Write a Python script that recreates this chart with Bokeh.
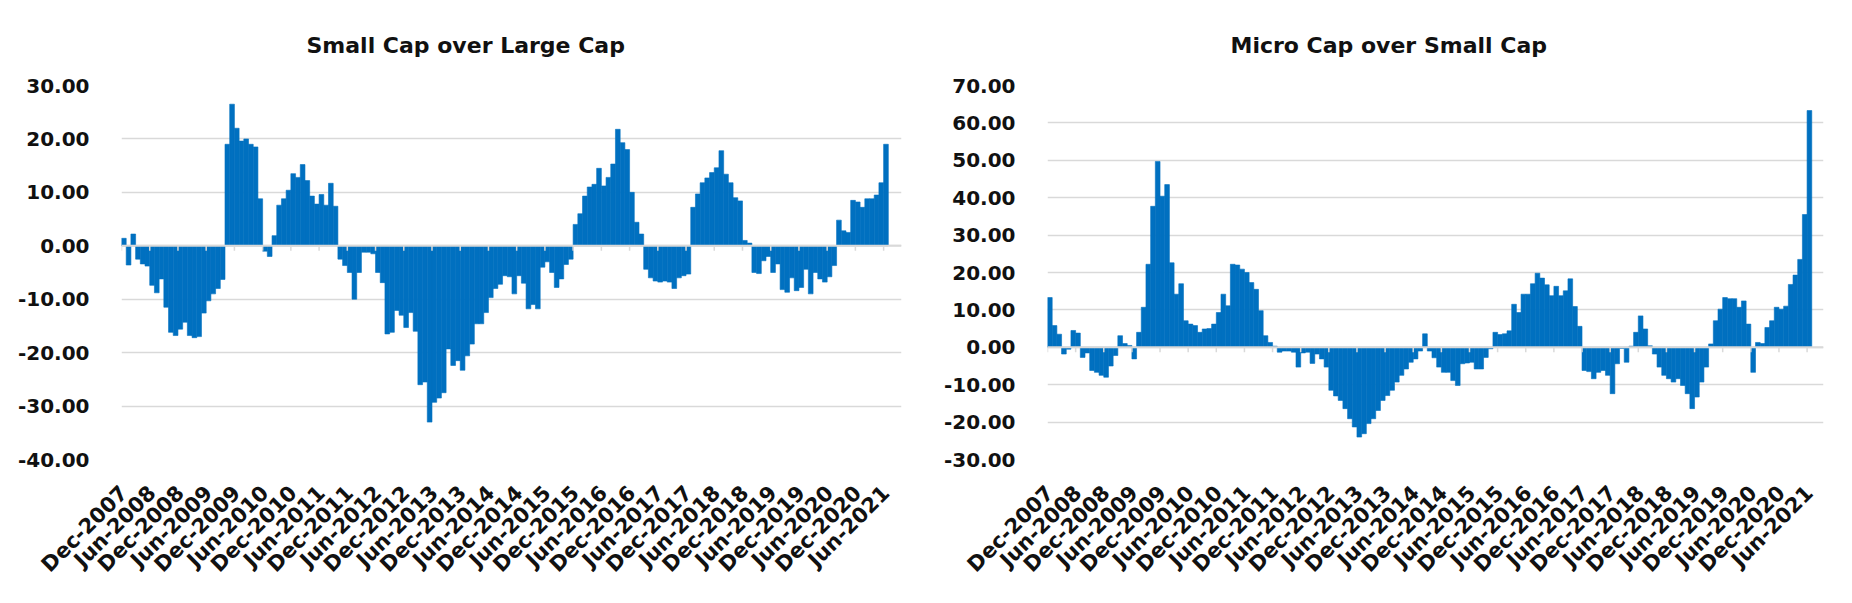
from math import pi

from bokeh.embed import file_html
from bokeh.layouts import row
from bokeh.models import (ColumnDataSource, FixedTicker, NumeralTickFormatter,
                          Range1d, Span)
from bokeh.plotting import figure
from bokeh.resources import INLINE

# Monthly relative performance, Dec-2007 .. Jun-2021 (163 months)
small_over_large = [
    1.4, -3.6, 2.2, -2.5, -3.4, -3.8, -7.4, -8.8, -6.2, -11.5,
    -16.2, -16.8, -15.6, -14.3, -16.8, -17.2, -17.0, -12.6, -10.3, -9.0,
    -8.0, -6.3, 19.0, 26.5, 22.0, 19.6, 20.0, 19.0, 18.5, 8.8,
    -1.0, -2.0, 1.9, 7.6, 8.8, 10.4, 13.5, 12.8, 15.2, 12.2,
    9.3, 7.8, 9.6, 7.6, 11.7, 7.4, -2.5, -3.7, -5.0, -10.0,
    -5.0, -1.2, -1.2, -1.5, -5.0, -6.9, -16.5, -16.2, -12.1, -13.0,
    -15.3, -12.5, -16.0, -26.0, -25.5, -33.0, -29.3, -28.5, -27.5, -19.3,
    -22.4, -21.5, -23.3, -20.6, -18.4, -14.6, -14.6, -12.5, -9.7, -8.0,
    -7.2, -5.6, -5.8, -9.0, -5.6, -7.0, -11.8, -11.0, -11.8, -4.0,
    -3.0, -5.0, -7.8, -6.2, -3.5, -2.5, 4.0, 6.0, 9.3, 11.0,
    11.5, 14.5, 11.2, 12.8, 15.3, 21.8, 19.3, 18.0, 10.0, 4.4,
    2.2, -4.4, -6.0, -6.6, -6.8, -6.6, -6.8, -8.0, -6.0, -5.6,
    -5.3, 7.2, 9.7, 11.8, 12.7, 13.7, 14.6, 17.8, 13.4, 11.8,
    9.0, 8.4, 1.0, 0.5, -5.0, -5.2, -2.8, -2.0, -5.0, -3.4,
    -8.2, -8.7, -6.0, -8.4, -7.8, -4.4, -9.0, -5.0, -6.2, -6.8,
    -5.8, -3.7, 4.8, 2.8, 2.5, 8.5, 8.2, 7.2, 8.8, 8.8,
    9.5, 11.8, 19.0,
]

micro_over_small = [
    13.3, 5.8, 3.5, -1.8, -0.5, 4.5, 3.8, -2.7, -1.5, -6.2,
    -6.7, -7.5, -8.0, -5.0, -2.2, 3.1, 1.0, 0.5, -3.1, 4.0,
    10.7, 22.2, 37.7, 49.7, 40.4, 43.5, 22.6, 14.2, 17.0, 7.1,
    6.2, 5.8, 4.0, 4.9, 5.0, 6.2, 9.3, 14.2, 11.1, 22.2,
    22.0, 20.9, 20.0, 17.3, 15.5, 9.8, 3.1, 1.3, 0.3, -1.3,
    -1.0, -1.0, -1.3, -5.3, -1.5, -1.3, -4.3, -1.8, -3.1, -5.3,
    -11.5, -13.0, -14.2, -16.4, -19.1, -21.3, -24.0, -23.1, -20.4, -19.1,
    -16.9, -14.2, -12.9, -11.5, -9.3, -7.5, -5.8, -4.0, -3.1, -1.0,
    3.6, -1.0, -2.8, -5.3, -6.7, -6.7, -8.9, -10.2, -4.4, -4.2,
    -4.0, -5.8, -5.8, -2.7, -0.4, 4.0, 3.4, 3.6, 4.4, 11.5,
    9.3, 14.2, 14.2, 17.0, 19.8, 18.5, 16.7, 13.8, 16.3, 13.8,
    15.1, 18.3, 10.9, 5.6, -6.2, -6.5, -8.4, -6.7, -6.2, -7.5,
    -12.4, -4.4, -0.3, -4.0, 0.3, 4.0, 8.4, 4.9, 0.4, -1.8,
    -5.3, -7.5, -8.4, -9.3, -8.4, -10.2, -12.4, -16.4, -13.3, -9.3,
    -5.3, 0.9, 7.1, 10.2, 13.3, 13.0, 13.0, 10.7, 12.4, 6.2,
    -6.7, 1.3, 1.0, 5.3, 7.1, 10.7, 10.2, 11.0, 16.8, 19.3,
    23.5, 35.5, 63.3,
]

month_names = ["Jan", "Feb", "Mar", "Apr", "May", "Jun",
               "Jul", "Aug", "Sep", "Oct", "Nov", "Dec"]
months = []
yr, mo = 2007, 12
for _ in range(len(small_over_large)):
    months.append(f"{month_names[mo - 1]}-{yr}")
    mo += 1
    if mo > 12:
        mo, yr = 1, yr + 1

label_step = 6
label_positions = list(range(0, len(months), label_step))
tick_labels = {i: months[i] for i in label_positions}

BAR_BLUE = "#0070c0"
GRID_GREY = "#d9d9d9"
TEXT = "#111111"
FONT = "DejaVu Sans"


def panel(title, values, y_lo, y_hi, x_hi, border, title_left):
    left, right, top, bottom = border
    width, height = 926, 603
    p = figure(width=width, height=height, output_backend="svg",
               toolbar_location=None,
               x_range=Range1d(-0.5, x_hi), y_range=Range1d(y_lo, y_hi),
               min_border_left=left, min_border_right=right,
               min_border_top=top, min_border_bottom=bottom)
    p.outline_line_color = None
    p.background_fill_color = "white"
    p.border_fill_color = "white"

    # chart title
    p.title.text = title
    p.title.align = "left"
    p.title.offset = title_left - left
    p.title.standoff = 56
    p.title.text_font = FONT
    p.title.text_font_style = "bold"
    p.title.text_font_size = "22px"
    p.title.text_color = TEXT

    src = ColumnDataSource(dict(x=list(range(len(values))), v=values))
    p.vbar(x="x", top="v", bottom=0, width=1.0, source=src,
           fill_color=BAR_BLUE, line_color=BAR_BLUE, line_width=0.6)

    # horizontal category axis line at zero with its tick marks
    p.add_layout(Span(location=0, dimension="width",
                      line_color=GRID_GREY, line_width=2))
    frame_h = height - top - bottom
    tick_len = 5 * (y_hi - y_lo) / frame_h
    tick_x = [i - 0.5 for i in label_positions]
    p.segment(x0=tick_x, x1=tick_x, y0=[0] * len(tick_x),
              y1=[-tick_len] * len(tick_x), line_color=GRID_GREY,
              line_width=1.5)

    # value axis
    p.yaxis.ticker = FixedTicker(ticks=list(range(y_lo, y_hi + 1, 10)))
    p.yaxis.formatter = NumeralTickFormatter(format="0.00")
    p.yaxis.axis_line_color = None
    p.yaxis.major_tick_line_color = None
    p.yaxis.minor_tick_line_color = None
    p.yaxis.major_label_standoff = 26
    p.yaxis.major_label_text_font = FONT
    p.yaxis.major_label_text_font_style = "bold"
    p.yaxis.major_label_text_font_size = "20px"
    p.yaxis.major_label_text_color = TEXT

    # month labels along the bottom
    p.xaxis.ticker = FixedTicker(ticks=label_positions)
    p.xaxis.major_label_overrides = tick_labels
    p.xaxis.major_label_orientation = pi / 4
    p.xaxis.axis_line_color = None
    p.xaxis.major_tick_line_color = None
    p.xaxis.minor_tick_line_color = None
    p.xaxis.major_label_standoff = 24
    p.xaxis.major_label_text_font = FONT
    p.xaxis.major_label_text_font_style = "bold"
    p.xaxis.major_label_text_font_size = "21px"
    p.xaxis.major_label_text_color = TEXT

    p.xgrid.visible = False
    p.ygrid.grid_line_color = GRID_GREY
    p.ygrid.grid_line_width = 1.5
    return p


p1 = panel("Small Cap over Large Cap", small_over_large, -40, 30, 165.3,
           (121, 25, 85, 144), 306)
p2 = panel("Micro Cap over Small Cap", micro_over_small, -30, 70, 165.0,
           (121, 29, 84, 144), 304)

layout = row(p1, p2)
open("out.html", "w").write(file_html(layout, INLINE))
